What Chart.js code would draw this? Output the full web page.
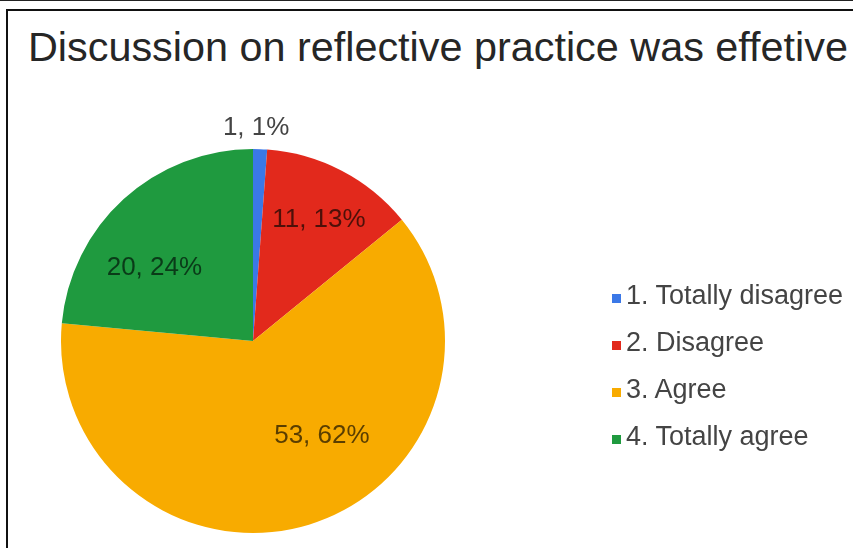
<!DOCTYPE html>
<html>
<head>
<meta charset="utf-8">
<script src="https://cdn.jsdelivr.net/npm/chart.js@4"></script>
<style>
  html, body { margin: 0; padding: 0; background: #fff; }
  #wrap { position: relative; width: 853px; height: 548px; overflow: hidden; font-family: "Liberation Sans", Arial, sans-serif; }
  #topLine { position: absolute; left: 0; top: 0; width: 853px; height: 1px; background: #222; }
  #frame { position: absolute; left: 6px; top: 9px; width: 900px; height: 600px; border-left: 2px solid #111; border-top: 2px solid #111; }
  #title { position: absolute; left: 28px; top: 28px; font-size: 40px; line-height: 39px; color: #262626; white-space: nowrap; transform-origin: 0 0; }
  #pie { position: absolute; left: 0; top: 0; }
  #legend { position: absolute; left: 612px; top: 272px; }
  .item { height: 47px; line-height: 47px; font-size: 27px; color: #444; white-space: nowrap; }
  .box { display: inline-block; width: 9px; height: 9px; margin-right: 5px; vertical-align: 1px; }
</style>
</head>
<body>
<div id="wrap">
  <div id="topLine"></div>
  <div id="frame"></div>
  <div id="title">Discussion on reflective practice was effetive</div>
  <canvas id="pie" width="853" height="548"></canvas>
  <div id="legend"></div>
</div>
<script>
// Survey answers
const answers = ['1. Totally disagree', '2. Disagree', '3. Agree', '4. Totally agree'];
const counts = [1, 11, 53, 20];
const sliceColors = ['#3b78e7', '#e2291c', '#f8ab00', '#1f9a3f'];

// where each value label sits: [fraction across the slice, fraction of radius]
const labelSpots = [[0.2, 1.11], [0.52, 0.72], [0.415, 0.61], [0.37, 0.64]];
const labelColors = ['#444', 'rgba(40,10,5,0.8)', 'rgba(50,35,0,0.8)', 'rgba(5,35,15,0.8)'];

const total = counts.reduce((a, b) => a + b, 0);

// Draw "count, percent" labels from each arc's geometry
const sliceLabels = {
  id: 'sliceLabels',
  afterDatasetsDraw(chart) {
    const ctx = chart.ctx;
    const arcs = chart.getDatasetMeta(0).data;
    ctx.save();
    ctx.font = '26px "Liberation Sans", Arial, sans-serif';
    ctx.textAlign = 'center';
    ctx.textBaseline = 'middle';
    arcs.forEach((arc, i) => {
      const p = arc.getProps(['x', 'y', 'startAngle', 'endAngle', 'outerRadius'], true);
      const a = p.startAngle + (p.endAngle - p.startAngle) * labelSpots[i][0];
      const r = p.outerRadius * labelSpots[i][1];
      const pct = Math.round(counts[i] / total * 100);
      ctx.fillStyle = labelColors[i];
      ctx.fillText(counts[i] + ', ' + pct + '%', p.x + Math.cos(a) * r, p.y + Math.sin(a) * r);
    });
    ctx.restore();
  }
};

new Chart(document.getElementById('pie'), {
  type: 'pie',
  data: {
    labels: answers,
    datasets: [{
      data: counts,
      backgroundColor: sliceColors,
      borderWidth: 0
    }]
  },
  options: {
    responsive: false,
    animation: false,
    layout: { padding: { left: 61, right: 408, top: 147, bottom: 13 } },
    plugins: {
      legend: { display: false },
      tooltip: { enabled: false }
    }
  },
  plugins: [sliceLabels]
});

// Legend
const legend = document.getElementById('legend');
answers.forEach((name, i) => {
  const row = document.createElement('div');
  row.className = 'item';
  const box = document.createElement('span');
  box.className = 'box';
  box.style.backgroundColor = sliceColors[i];
  row.appendChild(box);
  row.appendChild(document.createTextNode(name));
  legend.appendChild(row);
});

// squeeze the title to its line width
const title = document.getElementById('title');
title.style.transform = 'scaleX(' + (820 / title.offsetWidth) + ')';
</script>
</body>
</html>
